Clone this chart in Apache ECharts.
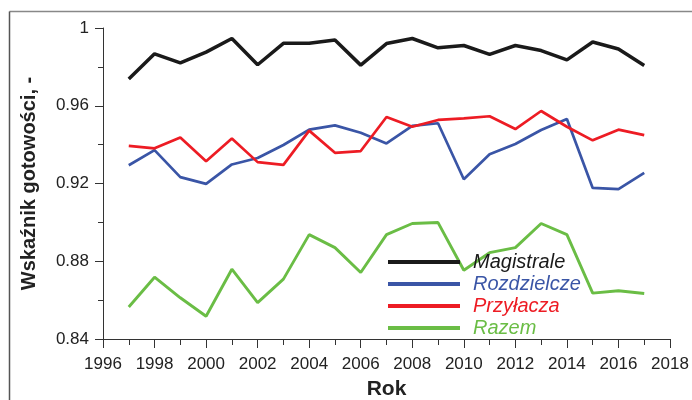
<!DOCTYPE html>
<html><head><meta charset="utf-8">
<script src="https://cdn.jsdelivr.net/npm/echarts@6/dist/echarts.min.js"></script>
<style>html,body{margin:0;padding:0;background:#fff}#c{width:692px;height:400px}</style>
</head><body><div id="c"></div>
<script>
const years = [1997,1998,1999,2000,2001,2002,2003,2004,2005,2006,2007,2008,2009,2010,2011,2012,2013,2014,2015,2016,2017];
const magistrale = [0.9737,0.9867,0.9821,0.9876,0.9946,0.9811,0.9921,0.9921,0.9938,0.9809,0.9920,0.9946,0.9898,0.9910,0.9864,0.9910,0.9884,0.9836,0.9928,0.9892,0.9807];
const rozdzielcze = [0.9294,0.9372,0.9233,0.9198,0.9298,0.9331,0.9398,0.9477,0.9499,0.9461,0.9406,0.9496,0.9510,0.9222,0.9350,0.9403,0.9475,0.9532,0.9177,0.9171,0.9255];
const przylacza = [0.9394,0.9381,0.9437,0.9314,0.9432,0.9310,0.9296,0.9472,0.9358,0.9367,0.9542,0.9492,0.9527,0.9535,0.9546,0.9480,0.9573,0.9492,0.9422,0.9477,0.9449];
const razem = [0.8565,0.8718,0.8612,0.8517,0.8759,0.8587,0.8708,0.8937,0.8870,0.8742,0.8937,0.8994,0.8999,0.8754,0.8844,0.8870,0.8994,0.8937,0.8636,0.8648,0.8634];
const seriesNames = ['Magistrale','Rozdzielcze','Przyłacza','Razem'];
const colors = ['#1a1a1a','#3a55a6','#ed1c24','#6abd45'];
const xTicks = {min:1996, max:2018, interval:2};
const yTicks = {min:0.84, max:1.0, interval:0.04};
const xTitle = 'Rok';
const yTitle = 'Wskaźnik gotowości, -';

const allData = [magistrale, rozdzielcze, przylacza, razem];
const widths = [3.5, 2.7, 2.7, 2.9];
const font = 'Liberation Sans, Arial, Helvetica, sans-serif';
const axisColor = '#333';

const chart = echarts.init(document.getElementById('c'), null, {renderer:'canvas'});
chart.setOption({
  animation:false,
  backgroundColor:'#fff',
  textStyle:{fontFamily:font},
  grid:{left:103, right:22, top:28, bottom:61, containLabel:false, outerBoundsMode:'none'},
  xAxis:{
    type:'value', min:xTicks.min, max:xTicks.max, interval:xTicks.interval,
    name:xTitle, nameLocation:'middle', nameGap:40,
    nameTextStyle:{fontSize:21, fontWeight:'bold', color:'#222', fontFamily:font},
    axisLine:{lineStyle:{color:axisColor, width:1}},
    axisTick:{show:true, length:9, lineStyle:{color:axisColor}},
    minorTick:{show:true, splitNumber:2, length:6, lineStyle:{color:axisColor}},
    splitLine:{show:false},
    axisLabel:{fontSize:17, color:'#222', margin:17, formatter:v=>String(v)}
  },
  yAxis:{
    type:'value', min:yTicks.min, max:yTicks.max, interval:yTicks.interval,
    name:yTitle, nameLocation:'middle', nameGap:64, nameRotate:90,
    nameTextStyle:{fontSize:20, fontWeight:'bold', color:'#222', fontFamily:font},
    axisLine:{show:true, lineStyle:{color:axisColor, width:1}},
    axisTick:{show:true, length:8, lineStyle:{color:axisColor}},
    minorTick:{show:true, splitNumber:2, length:5, lineStyle:{color:axisColor}},
    splitLine:{show:false},
    axisLabel:{fontSize:17, color:'#222', margin:14, padding:[5,0,0,0], formatter:v=>String(+v.toFixed(2))}
  },
  legend:{
    orient:'vertical', left:383, top:246, itemWidth:72, itemHeight:4, itemGap:0,
    icon:'rect',
    data:seriesNames.map((n,i)=>({name:n, textStyle:{color:colors[i]}})),
    textStyle:{fontSize:20, fontStyle:'italic', lineHeight:22, padding:[0,0,0,8], fontFamily:font}
  },
  graphic:[
    {type:'line', shape:{x1:9.5, y1:11.5, x2:692, y2:11.5}, style:{stroke:'#888', lineWidth:1.5}, silent:true},
    {type:'line', shape:{x1:9.5, y1:11.5, x2:9.5, y2:400}, style:{stroke:'#555', lineWidth:1.5}, silent:true}
  ],
  series:allData.map((d,i)=>({
    name:seriesNames[i], type:'line', showSymbol:false, symbol:'none',
    data:years.map((y,j)=>[y,d[j]]),
    lineStyle:{color:colors[i], width:widths[i]}, itemStyle:{color:colors[i]}
  }))
});
</script></body></html>
